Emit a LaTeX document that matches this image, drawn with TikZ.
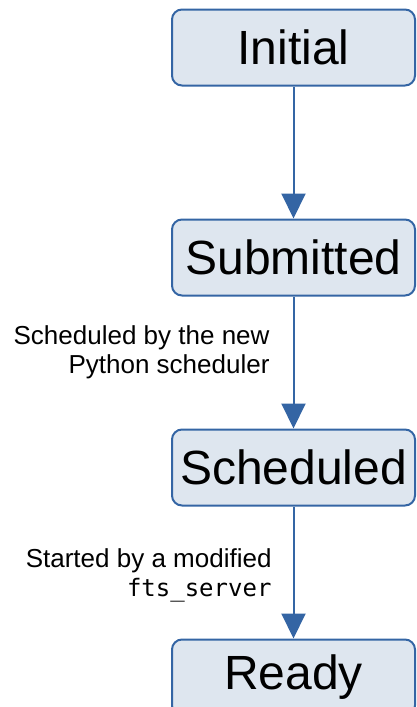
\documentclass[tikz,border=0pt]{standalone}
\usepackage{fontspec}
\setmainfont{Liberation Sans}
\setmonofont{DejaVu Sans Mono}
\usetikzlibrary{arrows.meta,positioning}
\definecolor{lineblue}{HTML}{3465A4}
\definecolor{boxfill}{HTML}{DEE6EF}
\begin{document}
\begin{tikzpicture}[x=1pt,y=1pt,>={Triangle[length=25pt,width=24pt]},
 node distance=132pt,
 st/.style={draw=lineblue,line width=2pt,rounded corners=10pt,fill=boxfill,
 minimum width=243pt,minimum height=76pt,inner sep=0pt,
 font=\fontsize{48}{52}\selectfont},
 lbl/.style={align=right,inner sep=0pt,font=\fontsize{26}{29}\selectfont},
 tr/.style={->,draw=lineblue,fill=lineblue,line width=2pt}]
\useasboundingbox (0,0) rectangle (416,-707);
\node[st] (initial) at (293.5,-47.5) {Initial};
\node[st,below=of initial] (submitted) {Submitted};
\node[st,below=of submitted] (scheduled) {Scheduled};
\node[st,below=of scheduled] (ready) {Ready};
\draw[tr] (initial)--(submitted);
\draw[tr] (submitted)--node[lbl,left=23pt,yshift=10pt]
  {Scheduled by the new\\Python scheduler} (scheduled);
\draw[tr] (scheduled)--node[lbl,left=21pt,yshift=-3pt]
  {Started by a modified\\{\ttfamily\fontsize{24}{29}\selectfont fts\_server}} (ready);
\end{tikzpicture}
\end{document}
